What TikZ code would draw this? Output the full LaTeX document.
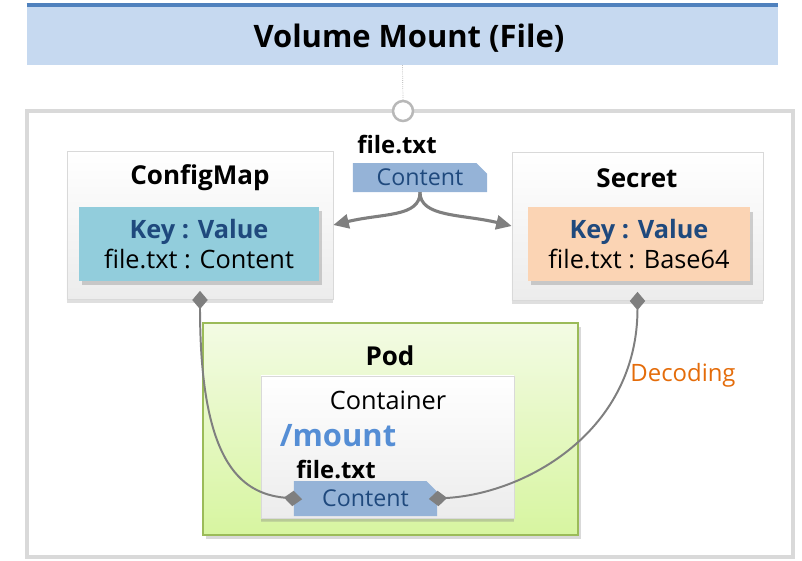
\documentclass[tikz,border=0pt]{standalone}
\usepackage{fontspec}
\setmainfont{Open Sans}
\usetikzlibrary{positioning,arrows.meta,shadows,shapes.misc}

\definecolor{titlefill}{RGB}{198,217,240}
\definecolor{titleline}{RGB}{79,129,189}
\definecolor{framegray}{RGB}{217,217,217}
\definecolor{boxgray}{RGB}{236,236,236}
\definecolor{cmfill}{RGB}{146,205,220}
\definecolor{secfill}{RGB}{251,212,180}
\definecolor{tagblue}{RGB}{149,179,215}
\definecolor{keyblue}{RGB}{31,73,125}
\definecolor{mountblue}{RGB}{85,142,213}
\definecolor{podtop}{RGB}{243,251,228}
\definecolor{podbottom}{RGB}{215,245,160}
\definecolor{podline}{RGB}{155,187,89}
\definecolor{linegray}{RGB}{127,127,127}
\definecolor{decode}{RGB}{228,108,10}

\begin{document}
\begin{tikzpicture}[x=0.025cm, y=-0.025cm,
    box/.style={rectangle, draw=framegray, top color=white, bottom color=boxgray, inner sep=0pt, drop shadow={opacity=0.25, shadow xshift=0pt, shadow yshift=-3pt}},
    kvbox/.style={rectangle, inner sep=0pt, align=center, font=\fontsize{18}{21}\selectfont, drop shadow={opacity=0.35, shadow xshift=2pt, shadow yshift=-3pt}},
    tagnode/.style={chamfered rectangle, chamfered rectangle corners=north east, chamfered rectangle xsep=4pt, fill=tagblue, inner sep=0pt, text=keyblue, font=\fontsize{16.5}{18}\selectfont},
    head/.style={font=\bfseries\fontsize{18.5}{20}\selectfont},
    arr/.style={draw=linegray, line width=2.2pt, -{Triangle[length=11pt,width=10pt]}},
    link/.style={draw=linegray, line width=1.4pt, {Diamond[length=13pt,width=11pt]}-{Diamond[length=13pt,width=11pt]}, shorten <=-6pt, shorten >=-6pt}]

    \useasboundingbox (0,0) rectangle (802,560);

    \node[rectangle, fill=titlefill, minimum width=18.775cm, minimum height=1.5cm] (title) at (402.5,35) {};
    \draw[titleline, line width=3pt] (title.north west) -- (title.north east);
    \node[font=\bfseries\fontsize{22}{24}\selectfont] (titletext) at (409,38) {Volume Mount (File)};

    \draw[framegray, line width=3pt] (27,111) rectangle (793,557);
    \node[circle, draw=framegray!85!black, line width=1.8pt, fill=white, minimum size=0.5cm, inner sep=0pt] (mnt) at (403,111) {};
    \draw[linegray!70, densely dotted, line width=0.5pt] (title.south) -- (mnt.north);

    \node[box, minimum width=6.65cm, minimum height=3.7cm] (cm) at (200,225) {};
    \node[head] (cmname) at (200,178) {ConfigMap};
    \node[kvbox, fill=cmfill, minimum width=6cm, minimum height=1.85cm] (cmkv) at (199,244) {\textbf{\textcolor{keyblue}{Key : Value}}\\file.txt : Content};

    \node[box, minimum width=6.275cm, minimum height=3.7cm] (sec) at (637.5,226) {};
    \node[head] (secname) at (637,178) {Secret};
    \node[kvbox, fill=secfill, minimum width=5.55cm, minimum height=1.825cm] (skv) at (639,244) {\textbf{\textcolor{keyblue}{Key : Value}}\\file.txt : Base64};

    \node[tagnode, minimum width=3.35cm, minimum height=0.725cm] (top) at (420,177.5) {Content};
    \node[font=\bfseries\fontsize{17}{19}\selectfont] (topfile) at (397,145) {file.txt};

    \node[rectangle, draw=podline, line width=0.8pt, top color=podtop, bottom color=podbottom, minimum width=9.375cm, minimum height=5.3cm, drop shadow={opacity=0.3, shadow xshift=2pt, shadow yshift=-3pt}] (pod) at (390.5,429) {};
    \node[head] (podname) at (390,356) {Pod};

    \node[box, minimum width=6.325cm, minimum height=3.55cm, drop shadow={opacity=0.15, shadow xshift=0pt, shadow yshift=-2pt}] (ctr) at (387.5,447) {};
    \node[font=\fontsize{18}{20}\selectfont] (ctrname) at (388,400) {Container};
    \node[font=\bfseries\fontsize{22}{24}\selectfont, text=mountblue] (path) at (338,436) {/mount};
    \node[font=\bfseries\fontsize{17}{19}\selectfont] (ctrfile) at (336,470) {file.txt};
    \node[tagnode, minimum width=3.575cm, minimum height=0.875cm] (ctag) at (365.5,498.5) {Content};

    \draw[arr] (top.south) .. controls +(0,25) and +(50,-12) .. (cm.east);
    \draw[arr] (top.south) .. controls +(0,25) and +(-50,-12) .. (sec.west);

    \draw[link] (cm.south) .. controls +(0,160) and +(-55,-5) .. (ctag.west);
    \draw[link] (sec.south) .. controls +(0,130) and +(90,-5) .. (ctag.east);

    \node[text=decode, font=\fontsize{17}{19}\selectfont] (dec) at (683,375) {Decoding};

\end{tikzpicture}
\end{document}
